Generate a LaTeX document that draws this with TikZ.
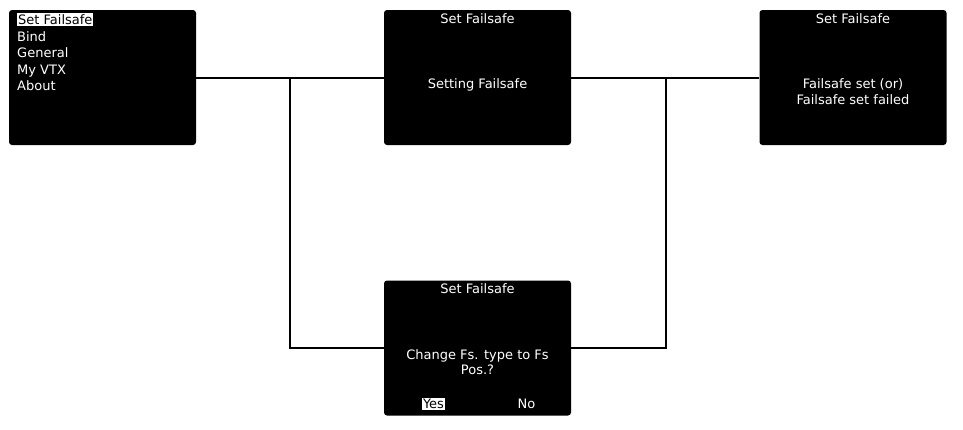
\documentclass[tikz,border=0pt]{standalone}
\usepackage{fontspec}
\setmainfont{DejaVu Sans}
\begin{document}
\begin{tikzpicture}[x=1pt,y=-1pt,
  screen/.style={draw=none,fill=black,rounded corners=3pt,minimum width=187pt,minimum height=135pt,inner sep=0pt},
  txt/.style={text=white,font=\fontsize{13}{15}\selectfont,inner sep=0pt,anchor=base},
  hl/.style={fill=white,text=black,font=\fontsize{13}{15}\selectfont,inner xsep=1pt,inner ysep=1.5pt,anchor=base},
  wire/.style={line width=2pt,black}]
\useasboundingbox (0,0) rectangle (963,429);
\node[screen] (b1) at (102.5,77.5) {};
\node[screen] (b2) at (477.5,77.5) {};
\node[screen] (b3) at (853,77.5) {};
\node[screen] (b4) at (477.5,348) {};
% box 1 menu
\node[hl,anchor=base west] (m1) at (17,24.5) {Set Failsafe};
\node[txt,anchor=base west] (m2) at (17,41) {Bind};
\node[txt,anchor=base west] (m3) at (17,57.5) {General};
\node[txt,anchor=base west] (m4) at (17,74) {My VTX};
\node[txt,anchor=base west] (m5) at (17,90.5) {About};
% box 2
\node[txt] (t2) at (477.5,23) {Set Failsafe};
\node[txt] (s2) at (477.5,88.5) {Setting Failsafe};
% box 3
\node[txt] (t3) at (853,23) {Set Failsafe};
\node[txt] (s3a) at (853,88.5) {Failsafe set (or)};
\node[txt] (s3b) at (853,104) {Failsafe set failed};
% box 4
\node[txt] (t4) at (477.5,293) {Set Failsafe};
\node[txt] (s4a) at (477.5,359) {Change Fs. type to Fs};
\node[txt] (s4b) at (477.5,374.5) {Pos.?};
\node[hl] (yes) at (433.5,408.5) {Yes};
\node[txt] (no) at (526.5,408.5) {No};
% connectors
\coordinate (j1) at (290,77.5);
\coordinate (j2) at (666,77.5);
\draw[wire] (b1.east) -- (b2.west);
\draw[wire] (b2.east) -- (b3.west);
\draw[wire] (j1) |- (b4.west);
\draw[wire] (j2) |- (b4.east);
\end{tikzpicture}
\end{document}
